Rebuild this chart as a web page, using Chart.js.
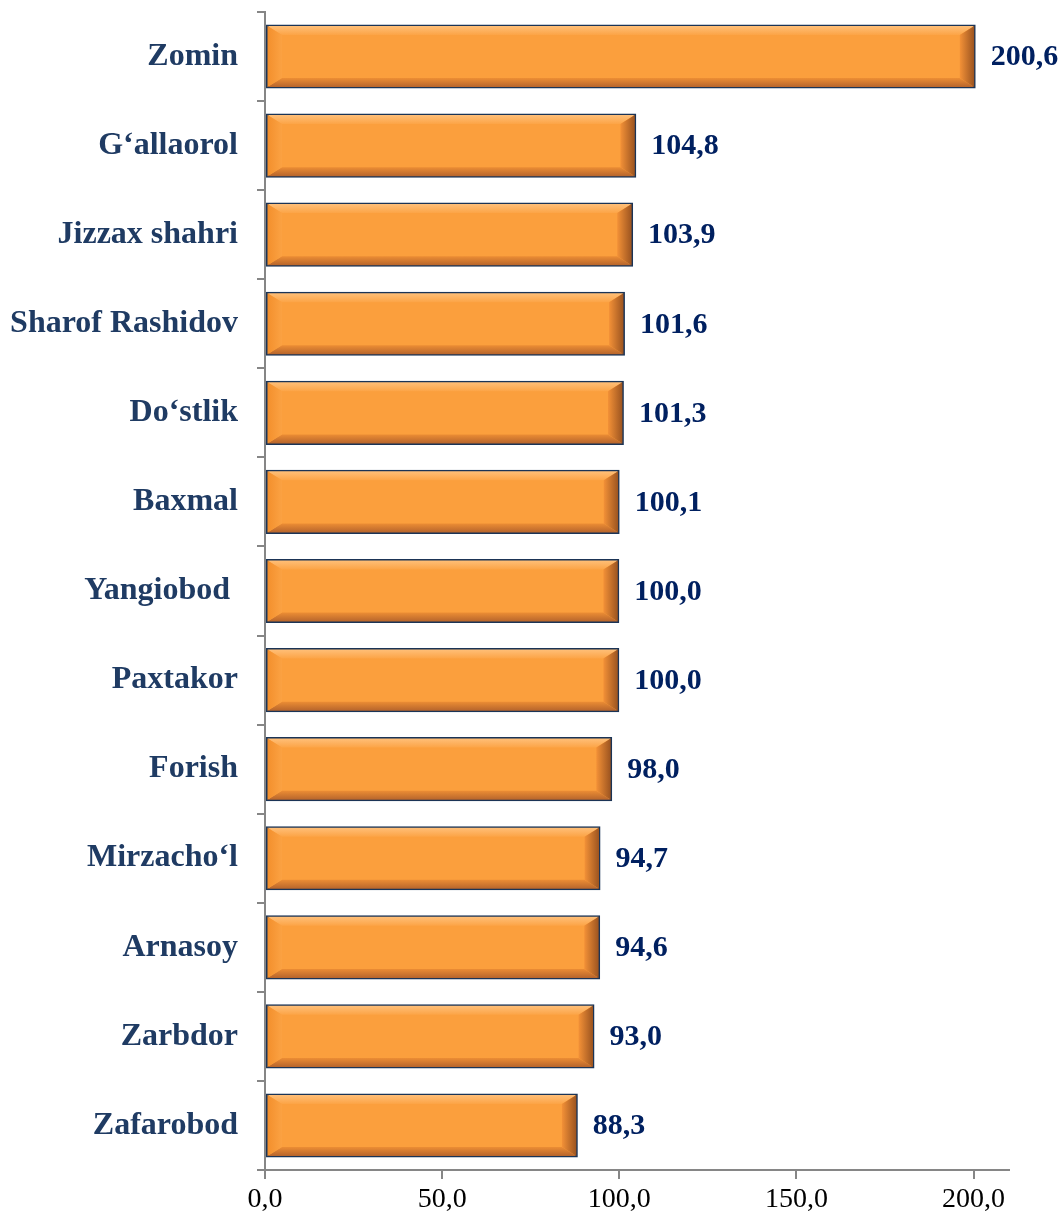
<!DOCTYPE html>
<html>
<head>
<meta charset="utf-8">
<script src="https://cdn.jsdelivr.net/npm/chart.js@4.4.0/dist/chart.umd.min.js"></script>
<style>
  html, body { margin: 0; padding: 0; background: #fff; }
  #wrap { width: 1062px; height: 1220px; }
</style>
</head>
<body>
<div id="wrap"><canvas id="districtChart"></canvas></div>
<script>
const districts = ['Zomin', 'G‘allaorol', 'Jizzax shahri', 'Sharof Rashidov', 'Do‘stlik', 'Baxmal',
    'Yangiobod ', 'Paxtakor', 'Forish', 'Mirzacho‘l', 'Arnasoy', 'Zarbdor', 'Zafarobod'];
const values = [200.6, 104.8, 103.9, 101.6, 101.3, 100.1, 100.0, 100.0, 98.0, 94.7, 94.6, 93.0, 88.3];
const xTicks = [0, 50, 100, 150, 200];

const fmt = (v) => v.toFixed(1).replace('.', ',');

// bevel edges on each bar, like the office "bevel" effect
const bevelPlugin = {
    id: 'bevel',
    afterDatasetsDraw(chart) {
        const ctx = chart.ctx;
        chart.getDatasetMeta(0).data.forEach((bar) => {
            const left = bar.base + 1.5, right = bar.x - 1.5;
            const top = bar.y - bar.height / 2 + 1.5, bottom = bar.y + bar.height / 2 - 1.5;
            const d = 9;
            ctx.save();
            // top
            let g = ctx.createLinearGradient(0, top, 0, top + d);
            g.addColorStop(0, '#ffbf78'); g.addColorStop(1, '#fca446');
            ctx.fillStyle = g;
            ctx.beginPath();
            ctx.moveTo(left, top); ctx.lineTo(right, top); ctx.lineTo(right - d * 1.6, top + d); ctx.lineTo(left + d * 1.6, top + d);
            ctx.closePath(); ctx.fill();
            // bottom
            g = ctx.createLinearGradient(0, bottom - d, 0, bottom);
            g.addColorStop(0, '#ec8d34'); g.addColorStop(1, '#b7652c');
            ctx.fillStyle = g;
            ctx.beginPath();
            ctx.moveTo(left, bottom); ctx.lineTo(right, bottom); ctx.lineTo(right - d * 1.6, bottom - d); ctx.lineTo(left + d * 1.6, bottom - d);
            ctx.closePath(); ctx.fill();
            // left
            g = ctx.createLinearGradient(left, 0, left + d * 1.6, 0);
            g.addColorStop(0, '#f38f2c'); g.addColorStop(1, '#fba243');
            ctx.fillStyle = g;
            ctx.beginPath();
            ctx.moveTo(left, top); ctx.lineTo(left + d * 1.6, top + d); ctx.lineTo(left + d * 1.6, bottom - d); ctx.lineTo(left, bottom);
            ctx.closePath(); ctx.fill();
            // right
            g = ctx.createLinearGradient(right - d * 1.6, 0, right, 0);
            g.addColorStop(0, '#f39137'); g.addColorStop(1, '#9c5420');
            ctx.fillStyle = g;
            ctx.beginPath();
            ctx.moveTo(right, top); ctx.lineTo(right - d * 1.6, top + d); ctx.lineTo(right - d * 1.6, bottom - d); ctx.lineTo(right, bottom);
            ctx.closePath(); ctx.fill();
            ctx.restore();
        });
    }
};

const valueLabels = {
    id: 'valueLabels',
    afterDatasetsDraw(chart) {
        const ctx = chart.ctx;
        ctx.save();
        ctx.font = 'bold 30px "Liberation Serif"';
        ctx.fillStyle = '#002060';
        ctx.textBaseline = 'middle';
        ctx.textAlign = 'left';
        chart.getDatasetMeta(0).data.forEach((bar, i) => {
            ctx.fillText(fmt(values[i]), bar.x + 15, bar.y + 1);
        });
        ctx.restore();
    }
};

const ctx = document.querySelector('#districtChart').getContext('2d');

new Chart(ctx, {
    type: 'bar',
    data: {
        labels: districts,
        datasets: [{
            data: values,
            backgroundColor: '#fb9f3d',
            borderColor: '#1b3456',
            borderWidth: 2.5,
            borderSkipped: false,
            barPercentage: 0.72,
            categoryPercentage: 1
        }]
    },
    options: {
        indexAxis: 'y',
        responsive: true,
        maintainAspectRatio: false,
        animation: false,
        layout: { padding: { top: 12, right: 53, left: 0, bottom: 0 } },
        scales: {
            x: {
                min: 0,
                max: 210,
                afterBuildTicks: (axis) => { axis.ticks = xTicks.map(v => ({ value: v })); },
                afterFit: (axis) => { axis.height = 50; },
                border: { color: '#868686', width: 2 },
                grid: {
                    drawOnChartArea: false,
                    tickLength: 9,
                    color: '#868686',
                    lineWidth: 2
                },
                ticks: {
                    callback: (v) => fmt(v),
                    color: '#000',
                    padding: 4,
                    maxRotation: 0,
                    font: { family: '"Liberation Serif"', size: 28 }
                }
            },
            y: {
                afterFit: (axis) => { axis.width = 265; axis.paddingTop = 0; axis.paddingBottom = 0; },
                border: { color: '#868686', width: 2 },
                grid: {
                    drawOnChartArea: false,
                    tickLength: 8,
                    color: '#868686',
                    lineWidth: 2
                },
                ticks: {
                    color: '#1f3b63',
                    padding: 19,
                    font: { family: '"Liberation Serif"', size: 32, weight: 'bold' }
                }
            }
        },
        plugins: {
            legend: { display: false },
            tooltip: { enabled: false }
        }
    },
    plugins: [bevelPlugin, valueLabels]
});
</script>
</body>
</html>
